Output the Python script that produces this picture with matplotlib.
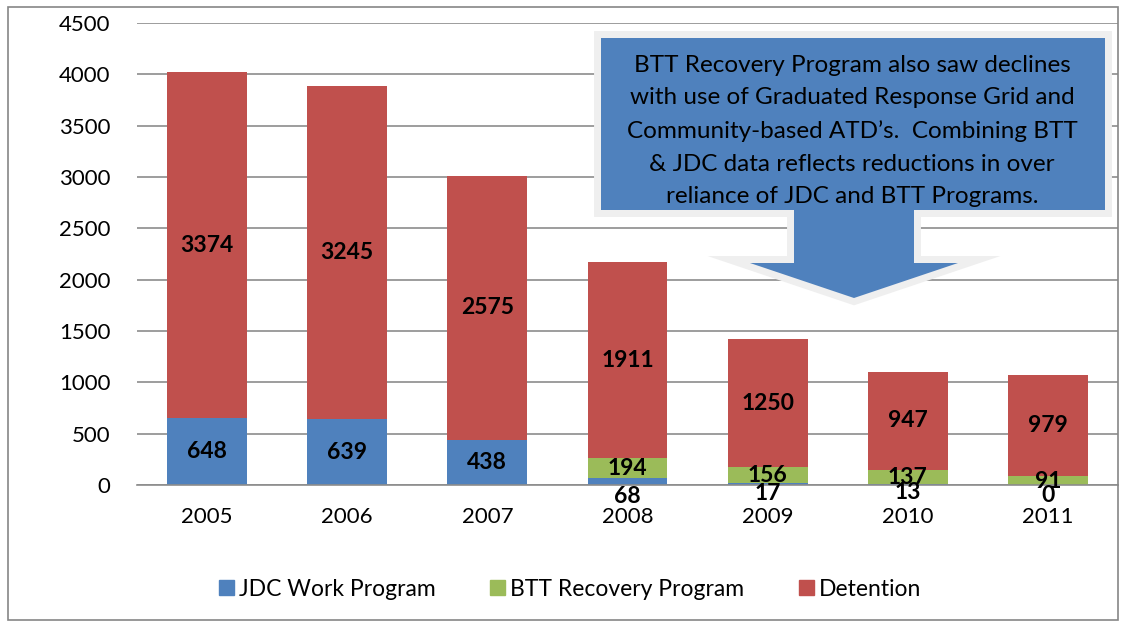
import numpy as np
import matplotlib
matplotlib.use("Agg")
import matplotlib.pyplot as plt
from matplotlib.patches import Polygon, Rectangle

plt.rcParams['font.family'] = ['Lato', 'DejaVu Sans']

years = ['2005', '2006', '2007', '2008', '2009', '2010', '2011']
jdc = [648, 639, 438, 68, 17, 13, 0]
btt = [0, 0, 0, 194, 156, 137, 91]
detention = [3374, 3245, 2575, 1911, 1250, 947, 979]

blue = '#4F81BD'
green = '#9BBB59'
red = '#C0504D'

W, H = 1123, 626
fig = plt.figure(figsize=(W / 100, H / 100), dpi=100)

def px(x, y):
    return (x / W, 1 - y / H)

# outer chart border
fig.patches.append(Rectangle(px(8, 620), 1110 / W, 613 / H, transform=fig.transFigure,
                             fill=False, edgecolor='#868686', linewidth=1.2))

ax = fig.add_axes([137 / W, 1 - 485 / H, (1118 - 137) / W, (485 - 23) / H])
x = np.arange(len(years))
jdc = np.array(jdc)
btt = np.array(btt)
detention = np.array(detention)

ax.bar(x, jdc, width=0.57, color=blue, zorder=3)
ax.bar(x, btt, width=0.57, bottom=jdc, color=green, zorder=3)
ax.bar(x, detention, width=0.57, bottom=jdc + btt, color=red, zorder=3)

ax.set_xlim(-0.5, len(years) - 0.5)
ax.set_ylim(0, 4500)
ax.set_yticks(range(0, 4501, 500))
ax.set_xticks(x)
ax.set_xticklabels(years)
ax.tick_params(axis='y', length=0, pad=19, labelsize=16)
ax.tick_params(axis='x', length=0, pad=16, labelsize=16)
ax.yaxis.grid(True, color='#8c8c8c', linewidth=1.2, zorder=0)
ax.set_axisbelow(True)
for s in ['left', 'right', 'top']:
    ax.spines[s].set_visible(False)
ax.spines['bottom'].set_color('#8c8c8c')
ax.spines['bottom'].set_linewidth(1.2)
ax.spines['bottom'].set_zorder(4)

lab = dict(ha='center', va='center', fontsize=16.5, fontweight='bold', color='black', zorder=6)
# JDC labels; tiny segments had their labels pushed below the axis
jdc_label_y = [None, None, None, -115, -80, -70, -100]
for i in x:
    if jdc[i] >= 100:
        ax.text(i, jdc[i] / 2, str(jdc[i]), **lab)
    else:
        ax.text(i, jdc_label_y[i], str(jdc[i]), clip_on=False, **lab)
    if btt[i] > 0:
        ax.text(i, jdc[i] + btt[i] / 2 + 15 - 5 * i, str(btt[i]), **lab)
    ax.text(i, jdc[i] + btt[i] + detention[i] / 2, str(detention[i]), **lab)

# callout arrow box
pts = [(601, 38), (1105, 38), (1105, 210), (914, 210), (914, 263), (958, 263),
       (854, 298), (750, 263), (794, 263), (794, 210), (601, 210)]
poly = [px(a, b) for a, b in pts]
fig.patches.append(Polygon(poly, closed=True, transform=fig.transFigure, facecolor='#F0F0F0',
                           edgecolor='#EFEFEF', linewidth=10, joinstyle='miter', zorder=5))
fig.patches.append(Polygon(poly, closed=True, transform=fig.transFigure, facecolor=blue,
                           edgecolor='none', zorder=6))
callout = ("BTT Recovery Program also saw declines\n"
           "with use of Graduated Response Grid and\n"
           "Community-based ATD\u2019s.  Combining BTT\n"
           "& JDC data reflects reductions in over\n"
           "reliance of JDC and BTT Programs.")
fig.text(852 / W, 1 - 131 / H, callout, ha='center', va='center', fontsize=17.5,
         linespacing=1.68, color='black', zorder=7)

# legend
handles = [Rectangle((0, 0), 1, 1, color=c) for c in (blue, green, red)]
fig.legend(handles, ['JDC Work Program', 'BTT Recovery Program', 'Detention'],
           loc='center', bbox_to_anchor=(570 / W, 1 - 589 / H), ncol=3, frameon=False,
           fontsize=16.5, handlelength=0.65, handleheight=0.65, handletextpad=0.2,
           columnspacing=2.4)

fig.savefig('out.png', dpi=100)
